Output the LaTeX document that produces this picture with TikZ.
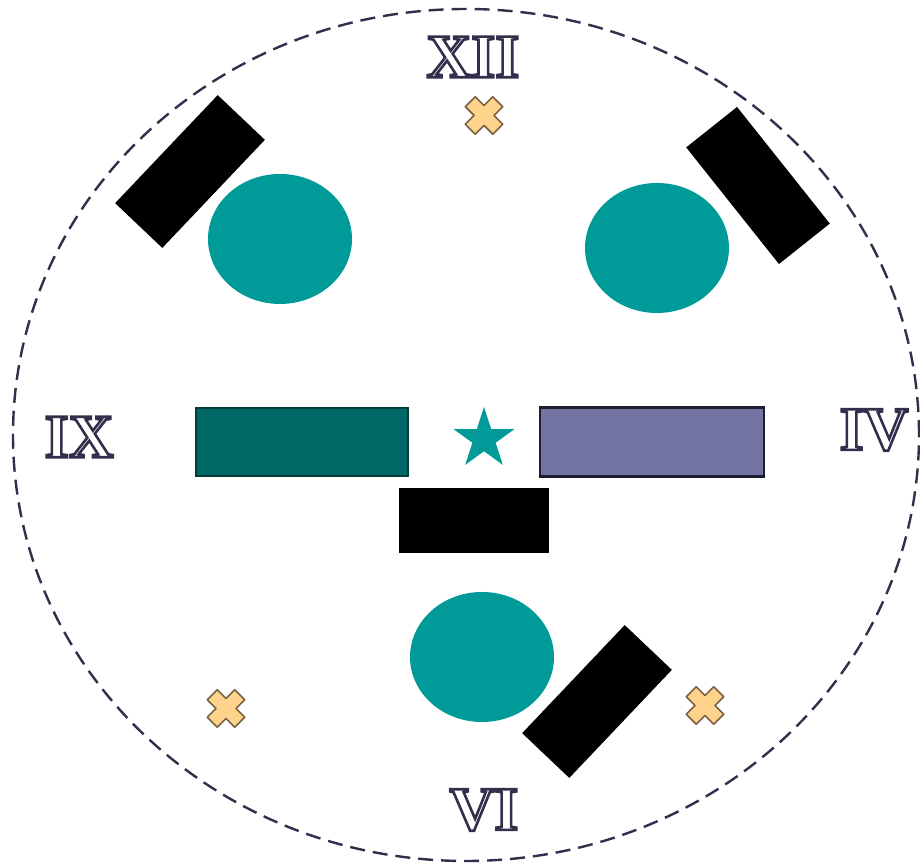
\documentclass[tikz,border=0pt]{standalone}
\usepackage{fontspec}
\setmainfont{Liberation Serif}
\usetikzlibrary{shapes.geometric}
\definecolor{tealA}{HTML}{009A98}
\definecolor{tealD}{HTML}{006866}
\definecolor{tealB}{HTML}{003E3C}
\definecolor{purpA}{HTML}{7474A3}
\definecolor{purpB}{HTML}{1C1B30}
\definecolor{navy}{HTML}{322F4C}
\definecolor{crossF}{HTML}{FFD38C}
\definecolor{crossB}{HTML}{7A6242}
\tikzset{
  blk/.style={rectangle, fill=black, minimum width=149pt, minimum height=65pt, inner sep=0pt},
  oval/.style={ellipse, fill=tealA, minimum width=144pt, minimum height=130pt, inner sep=0pt},
  numeral/.style={inner sep=0pt, font=\fontsize{62}{62}\selectfont\bfseries},
  crossshape/.style={fill=crossF, draw=crossB, line width=1.6pt, line join=round},
  pics/xmark/.style={code={
    \path[crossshape, rotate=45] (7,7) -- (7,19.5) -- (-7,19.5) -- (-7,7) -- (-19.5,7) -- (-19.5,-7)
      -- (-7,-7) -- (-7,-19.5) -- (7,-19.5) -- (7,-7) -- (19.5,-7) -- (19.5,7) -- cycle;
  }},
}
\newcommand\clocktext[1]{\textcolor{white}{\special{pdf:literal direct 2 Tr 2.6 w 0.196 0.184 0.298 RG}#1\special{pdf:literal direct 0 Tr}}}
\begin{document}
\begin{tikzpicture}[x=1pt,y=1pt]
\useasboundingbox (0,0) rectangle (920,866);
\fill[white] (0,0) rectangle (920,866);

% dashed dial
\draw[navy, line width=2.4pt, dash pattern=on 15pt off 8pt] (466,431) ellipse [x radius=453, y radius=426];

% black tilted bars
\node[blk, rotate=46.5] (tlbar) at (190,694.5) {};
\node[blk, rotate=-51.5] (trbar) at (758,680.5) {};
\node[blk, rotate=46.5] (brbar) at (597,164.5) {};

% teal ovals
\node[oval] (tloval) at (280,627) {};
\node[oval] (troval) at (657,618) {};
\node[oval] (boval) at (482,209) {};

% centre rectangles
\node[rectangle, fill=tealD, draw=tealB, line width=2pt, minimum width=212pt, minimum height=68pt, inner sep=0pt] (leftrect) at (302,424) {};
\node[rectangle, fill=purpA, draw=purpB, line width=2.2pt, minimum width=224pt, minimum height=69pt, inner sep=0pt] (rightrect) at (652,424) {};
\node[rectangle, fill=black, minimum width=150pt, minimum height=65pt, inner sep=0pt] (midrect) at (474,345.5) {};

% star
\node[star, star points=5, star point ratio=2.618, fill=tealA, minimum size=64pt, inner sep=0pt] (centerstar) at (484,427) {};

% crosses
\coordinate (ctop) at (484,750.5);
\coordinate (cbl) at (226,157.5);
\coordinate (cbr) at (705,160.5);
\pic at (ctop) {xmark};
\pic at (cbl) {xmark};
\pic at (cbr) {xmark};

% numerals
\node[numeral] (xii) at (473,809) {\clocktext{XII}};
\node[numeral] (ix) at (79,429) {\clocktext{IX}};
\node[numeral] (iv) at (874,436) {\clocktext{IV}};
\node[numeral] (vi) at (484,56) {\clocktext{VI}};
\end{tikzpicture}
\end{document}
